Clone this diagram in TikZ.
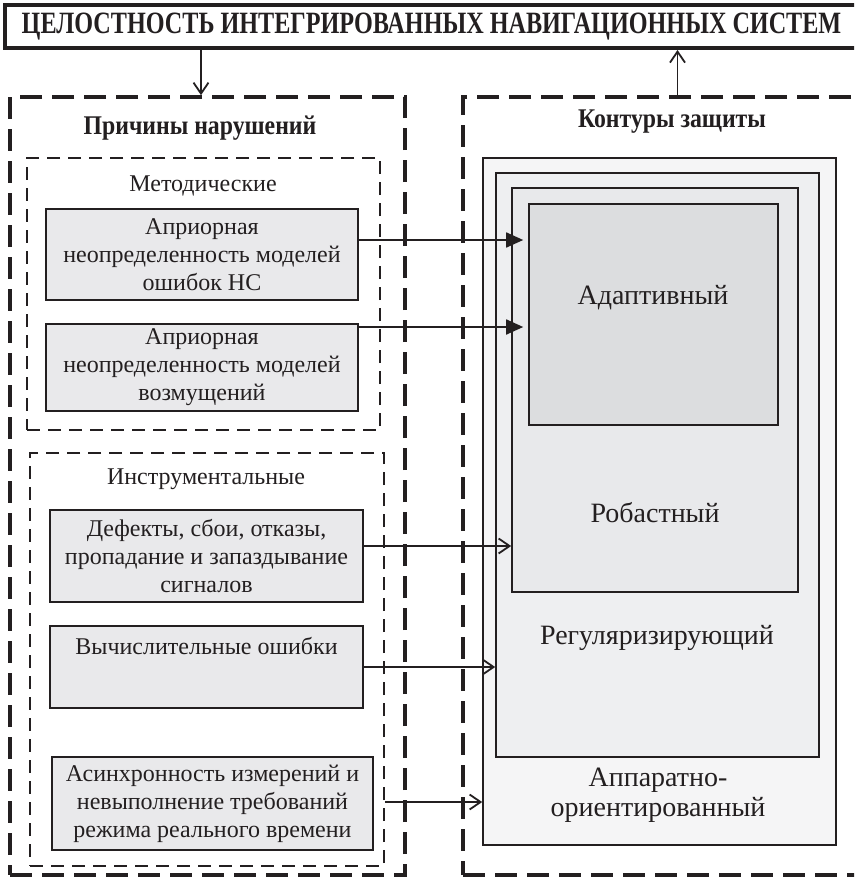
\documentclass[tikz,border=0pt]{standalone}
\usepackage{fontspec}
\usepackage{graphicx}
\setmainfont{Liberation Serif}
\newfontfamily\condfont[FakeStretch=0.88]{Liberation Serif}
\newfontfamily\titlefont[FakeStretch=0.78]{Liberation Serif}
\usetikzlibrary{arrows.meta}
\definecolor{ink}{RGB}{35,31,32}
\definecolor{boxgray}{RGB}{233,233,235}
\definecolor{appgray}{RGB}{245,245,246}
\definecolor{reggray}{RGB}{238,239,241}
\definecolor{robgray}{RGB}{232,233,235}
\definecolor{adgray}{RGB}{220,221,223}
\tikzset{
  causebox/.style={draw=ink, line width=1.6pt, fill=boxgray, inner sep=0pt, align=center, text=ink, font=\fontsize{24}{28}\selectfont},
  nestbox/.style={draw=ink, line width=1.6pt, inner sep=0pt},
  bigdash/.style={draw=ink, line width=3.6pt, dash pattern=on 22pt off 10pt, inner sep=0pt},
  smalldash/.style={draw=ink, line width=1.5pt, dash pattern=on 13pt off 8pt, inner sep=0pt},
  headtxt/.style={text=ink, font=\condfont\bfseries\fontsize{27}{30}\selectfont},
  subtxt/.style={text=ink, font=\fontsize{24}{28}\selectfont},
  contxt/.style={text=ink, align=center, font=\fontsize{28}{30}\selectfont},
  conn/.style={draw=ink, line width=1.8pt},
  solidhead/.style={conn, -{Triangle[length=17pt,width=15pt]}},
  openhead/.style={conn, -{Straight Barb[length=11pt,width=15pt,line width=1.8pt]}}
}
\begin{document}
\begin{tikzpicture}[x=1pt,y=-1pt]
\clip (0,0) rectangle (854,878);
\fill[white] (0,0) rectangle (854,878);

% title
\node[draw=ink, line width=4pt, minimum width=853, minimum height=43, inner sep=0pt,
      text=ink, font=\titlefont\bfseries\fontsize{31}{33}\selectfont] (title) at (431.5,26.5)
  {ЦЕЛОСТНОСТЬ ИНТЕГРИРОВАННЫХ НАВИГАЦИОННЫХ СИСТЕМ};

% outer dashed containers
\node[bigdash, minimum width=395, minimum height=778] (cause) at (207.5,486) {};
\node[bigdash, minimum width=397, minimum height=778] (prot) at (661.5,486) {};
\node[headtxt] (causehead) at (200,128) {Причины нарушений};
\node[headtxt] (prothead) at (672,122) {Контуры защиты};

% category containers
\node[smalldash, minimum width=353, minimum height=272] (meth) at (203.5,294) {};
\node[smalldash, minimum width=354, minimum height=413] (instr) at (207,659.5) {};
\node[subtxt] (methlbl) at (203,186) {Методические};
\node[subtxt] (instrlbl) at (206,479) {Инструментальные};

% cause boxes
\node[causebox, minimum width=312, minimum height=91] (b1) at (202,254.5)
  {Априорная\\неопределенность моделей\\ошибок НС};
\node[causebox, minimum width=312, minimum height=87] (b2) at (202,367.5)
  {Априорная\\неопределенность моделей\\возмущений};
\node[causebox, minimum width=313, minimum height=92] (b3) at (206.5,556)
  {Дефекты, сбои, отказы,\\пропадание и запаздывание\\сигналов};
\node[causebox, minimum width=313, minimum height=82] (b4) at (206.5,667)
  {Вычислительные ошибки\\[6pt]\strut};
\node[causebox, minimum width=321, minimum height=93] (b5) at (212.5,803.5)
  {Асинхронность измерений и\\невыполнение требований\\режима реального времени};

% nested protection contours
\node[nestbox, fill=appgray, minimum width=353, minimum height=687] (app) at (659.5,501.5) {};
\node[nestbox, fill=reggray, minimum width=323, minimum height=584] (reg) at (657.5,465) {};
\node[nestbox, fill=robgray, minimum width=286, minimum height=404] (rob) at (655,390) {};
\node[nestbox, fill=adgray, minimum width=249, minimum height=221] (ad) at (653.5,314.5) {};
\node[contxt] (adlbl) at (653,298) {Адаптивный};
\node[contxt] (roblbl) at (655,513) {Робастный};
\node[contxt] (reglbl) at (657,638) {Регуляризирующий};
\node[contxt] (applbl) at (658,795) {Аппаратно-\\ориентированный};

% vertical connectors
\path (cause.north) ++(-6.5,0) coordinate (cn);
\path (prot.north) ++(16,0) coordinate (pn);
\draw[openhead] (title.south -| cn) -- (cn);
\draw[openhead] (pn) -- (pn |- title.south);

% horizontal connectors
\path (b1.east) ++(0,-14.5) coordinate (s1);
\path (b2.east) ++(0,-40.5) coordinate (s2);
\path (b3.east) ++(0,-10) coordinate (s3);
\path (b4.east) coordinate (s4);
\path (instr.east) ++(0,142.5) coordinate (s5);
\draw[solidhead, shorten >=5pt] (s1) -- (s1 -| ad.west);
\draw[solidhead, shorten >=5pt] (s2) -- (s2 -| ad.west);
\draw[openhead] (s3) -- (s3 -| rob.west);
\draw[openhead] (s4) -- (s4 -| reg.west);
\draw[openhead] (s5) -- (s5 -| app.west);
\end{tikzpicture}
\end{document}
